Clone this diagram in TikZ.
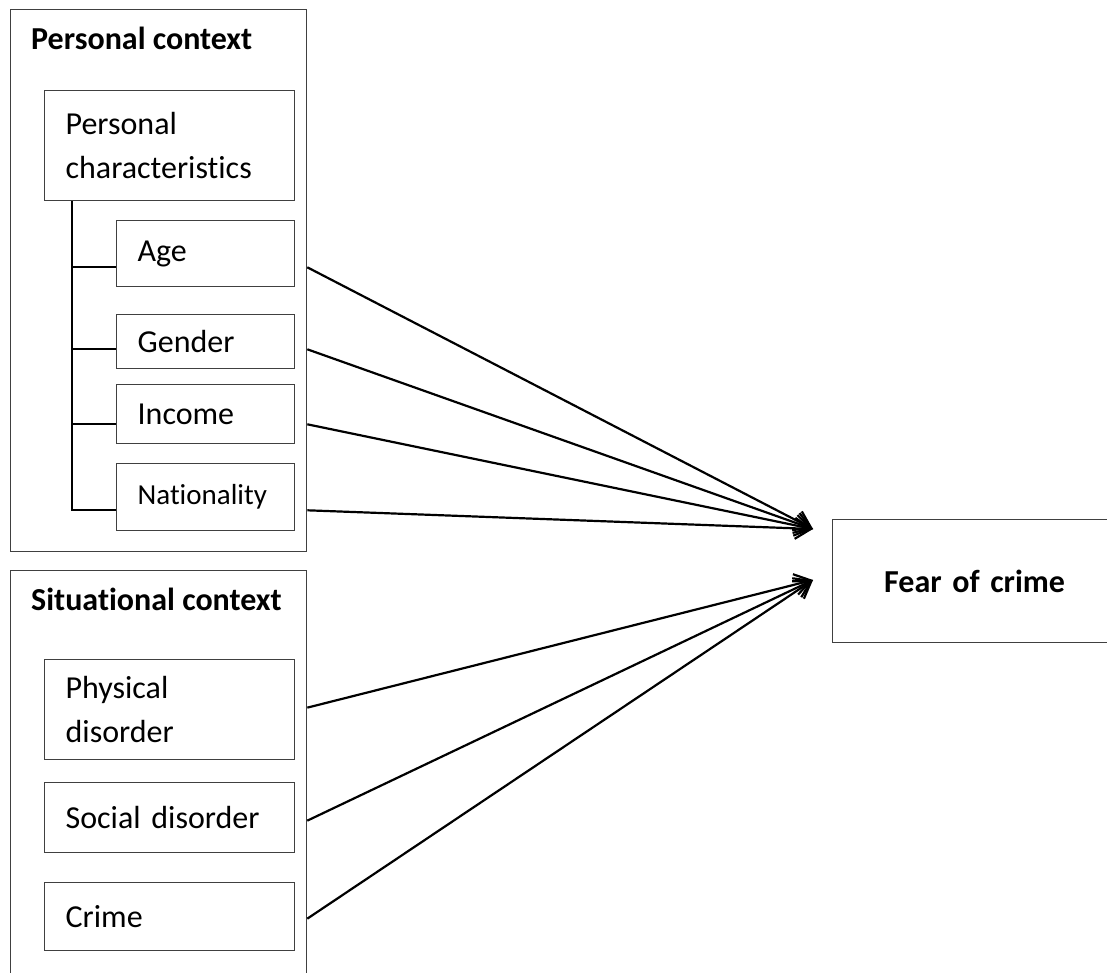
\documentclass[tikz,border=0pt]{standalone}
\usepackage{fontspec}
\setmainfont{Carlito}[Ligatures=CommonOff, WordSpace={1,0,0}]
\usetikzlibrary{arrows.meta,calc}
\definecolor{boxgray}{HTML}{404040}
\begin{document}
\begin{tikzpicture}[x=1pt,y=-1pt,
  frame/.style={draw=boxgray, line width=1.3pt},
  box/.style={draw=boxgray, line width=1.3pt, rectangle, anchor=north west,
    inner xsep=21pt, inner ysep=0pt, align=left,
    font=\fontsize{32}{44}\selectfont},
  title/.style={anchor=base west, inner sep=0pt, font=\fontsize{32}{38}\selectfont\bfseries},
  tree/.style={line width=2pt, black},
  link/.style={line width=2.2pt, black, -{Straight Barb[length=16pt,width=21pt,line width=2.2pt]}}]
\useasboundingbox (0,0) rectangle (1107,973);
\clip (0,0) rectangle (1107,973);

% containers
\node[frame, rectangle, anchor=north west, minimum width=296pt, minimum height=542pt, inner sep=0pt] (pc) at (10,9) {};
\node[frame, rectangle, anchor=north west, minimum width=296pt, minimum height=440pt, inner sep=0pt] (sc) at (10,570) {};
\node[title] (pct) at (31,50) {Personal context};
\node[title] (sct) at (31,610) {Situational context};

% personal context boxes
\node[box, text width=208pt, minimum height=110pt] (pchar) at (44,90) {Personal\\characteristics};
\node[box, text width=136pt, minimum height=66pt] (age) at (116,220) {Age};
\node[box, text width=136pt, minimum height=54pt] (gender) at (116,314) {Gender};
\node[box, text width=136pt, minimum height=59pt] (income) at (116,384) {Income};
\node[box, text width=136pt, minimum height=67pt, font=\fontsize{29}{40}\selectfont] (nat) at (116,463) {Nationality};

% situational context boxes
\node[box, text width=208pt, minimum height=100pt] (phys) at (44,659) {Physical\\disorder};
\node[box, text width=208pt, minimum height=70pt] (soc) at (44,782) {Social disorder};
\node[box, text width=208pt, minimum height=68pt] (crime) at (44,882) {Crime};

% outcome
\node[box, text width=242pt, minimum height=123pt, align=center, font=\fontsize{32}{38}\selectfont\bfseries] (fear) at (832,519) {Fear of crime};

% tree
\coordinate (tAge) at ($(age.south west)+(0,-20)$);
\coordinate (tGen) at ($(gender.south west)+(0,-20)$);
\coordinate (tInc) at ($(income.south west)+(0,-20)$);
\coordinate (tNat) at ($(nat.south west)+(0,-21)$);
\coordinate (trunk) at ($(pchar.south west)+(28,0)$);
\draw[tree] (trunk) -- (trunk |- tNat) -- (tNat);
\draw[tree] (trunk |- tAge) -- (tAge);
\draw[tree] (trunk |- tGen) -- (tGen);
\draw[tree] (trunk |- tInc) -- (tInc);

% arrow targets
\coordinate (tipA) at ($(fear.north west)+(-19,10)$);
\coordinate (tipB) at ($(fear.north west)+(-19,61)$);

% arrows
\draw[link] (pc.east |- tAge) -- (tipA);
\draw[link] (pc.east |- tGen) -- (tipA);
\draw[link] (pc.east |- tInc) -- (tipA);
\draw[link] (pc.east |- tNat) -- (tipA);
\draw[link] ($(sc.east |- phys)+(0,-2)$) -- (tipB);
\draw[link] ($(sc.east |- soc)+(0,3)$) -- (tipB);
\draw[link] ($(sc.east |- crime)+(0,2)$) -- (tipB);
\end{tikzpicture}
\end{document}
